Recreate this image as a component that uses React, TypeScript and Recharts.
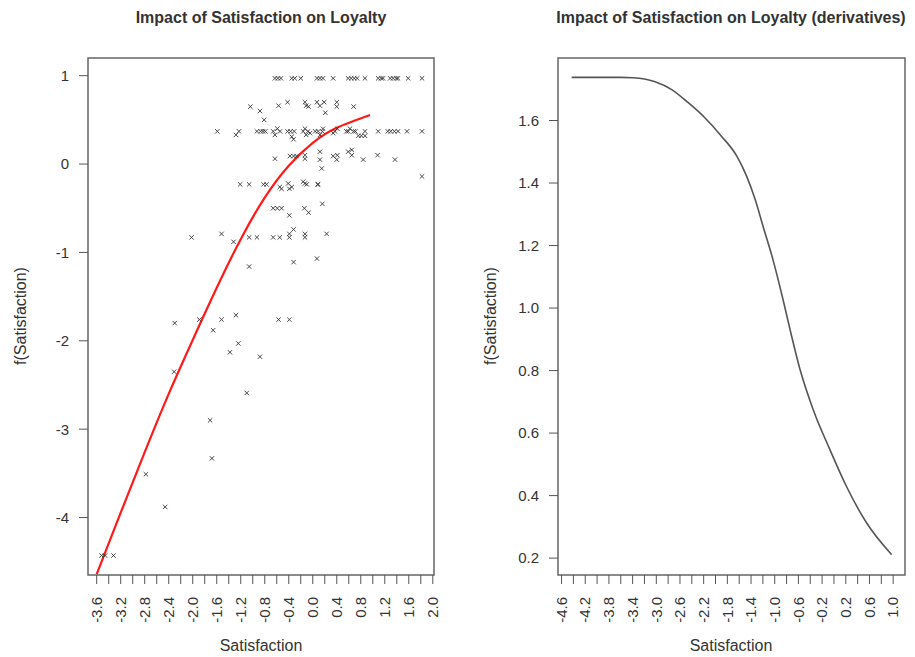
import React from 'react';
import { ComposedChart, Line, Scatter, XAxis, YAxis, ReferenceArea } from 'recharts';

// axis ticks (every 0.2, labels every 0.4)
const leftXTicks = [-3.6, -3.4, -3.2, -3.0, -2.8, -2.6, -2.4, -2.2, -2.0, -1.8, -1.6, -1.4, -1.2, -1.0, -0.8, -0.6, -0.4, -0.2, 0.0, 0.2, 0.4, 0.6, 0.8, 1.0, 1.2, 1.4, 1.6, 1.8, 2.0];
const leftXLabels = [-3.6, -3.2, -2.8, -2.4, -2.0, -1.6, -1.2, -0.8, -0.4, 0.0, 0.4, 0.8, 1.2, 1.6, 2.0];
const leftYTicks = [-4, -3, -2, -1, 0, 1];

const rightXTicks = [-4.6, -4.4, -4.2, -4.0, -3.8, -3.6, -3.4, -3.2, -3.0, -2.8, -2.6, -2.4, -2.2, -2.0, -1.8, -1.6, -1.4, -1.2, -1.0, -0.8, -0.6, -0.4, -0.2, 0.0, 0.2, 0.4, 0.6, 0.8, 1.0];
const rightXLabels = [-4.6, -4.2, -3.8, -3.4, -3.0, -2.6, -2.2, -1.8, -1.4, -1.0, -0.6, -0.2, 0.2, 0.6, 1.0];
const rightYTicks = [0.2, 0.4, 0.6, 0.8, 1.0, 1.2, 1.4, 1.6];

// observed points: satisfaction (x) vs partial effect (y)
const obsX = [
  -0.63, -0.58, -0.53, -0.35, -0.30, -0.20, 0.07, 0.12, 0.17, 0.34, 0.59, 0.64, 0.69, 0.74, 0.87, 1.09, 1.14, 1.17, 1.29, 1.34, 1.39, 1.42, 1.59, 1.82,
  -1.04, -0.88, -0.81, -0.57, -0.42, -0.13, -0.11, -0.07, 0.07, 0.12, 0.19, 0.21, 0.40, 0.40, 0.68,
  -1.59, -1.28, -1.23, -0.93, -0.87, -0.83, -0.79, -0.66, -0.63, -0.59, -0.545, -0.42, -0.37, -0.35, -0.31, -0.32, -0.16, -0.13, -0.11, -0.08, -0.045, 0.04, 0.09, 0.12, 0.16, 0.17, 0.34, 0.37, 0.41, 0.56, 0.59, 0.62, 0.68, 0.71, 0.76, 0.81, 0.87, 0.87, 1.09, 1.25, 1.30, 1.36, 1.42, 1.57, 1.82,
  -0.63, -0.38, -0.32, -0.27, -0.13, -0.13, 0.12, 0.12, 0.15, 0.34, 0.40, 0.41, 0.59, 0.65, 0.65, 0.84, 1.08, 1.37, 1.82,
  -1.21, -1.06, -0.82, -0.77, -0.55, -0.52, -0.41, -0.39, -0.35, -0.16, -0.13, -0.10, 0.08, 0.09,
  -0.66, -0.59, -0.52, -0.39, -0.14, -0.07, 0.16,
  -2.02, -1.52, -1.32, -1.06, -0.93, -0.66, -0.55, -0.39, -0.39, -0.32, -0.13, -0.13, 0.23,
  -1.06, -0.32, 0.07,
  -2.30, -1.89, -1.52, -1.28, -0.57, -0.39, -1.66, -1.24, -1.38, -0.88, -2.31, -1.10, -1.71, -1.68, -2.78, -2.46, -3.52, -3.46, -3.32,
];
const obsY = [
  0.97, 0.97, 0.97, 0.97, 0.97, 0.97, 0.97, 0.97, 0.97, 0.97, 0.97, 0.97, 0.97, 0.97, 0.97, 0.97, 0.97, 0.97, 0.97, 0.97, 0.97, 0.97, 0.97, 0.97,
  0.65, 0.60, 0.50, 0.66, 0.70, 0.70, 0.66, 0.65, 0.70, 0.66, 0.70, 0.58, 0.70, 0.65, 0.65,
  0.37, 0.33, 0.37, 0.37, 0.37, 0.37, 0.37, 0.37, 0.33, 0.40, 0.37, 0.37, 0.37, 0.31, 0.37, 0.28, 0.37, 0.40, 0.33, 0.37, 0.35, 0.37, 0.37, 0.33, 0.37, 0.40, 0.35, 0.37, 0.40, 0.37, 0.37, 0.40, 0.37, 0.37, 0.32, 0.32, 0.32, 0.37, 0.37, 0.37, 0.37, 0.37, 0.37, 0.37, 0.37,
  0.06, 0.09, 0.09, 0.09, 0.06, 0.10, 0.14, 0.05, -0.05, 0.09, 0.05, 0.10, 0.14, 0.10, 0.16, 0.05, 0.10, 0.05, -0.14,
  -0.23, -0.23, -0.23, -0.23, -0.26, -0.28, -0.22, -0.28, -0.26, -0.20, -0.22, -0.23, -0.23, -0.23,
  -0.50, -0.50, -0.50, -0.58, -0.50, -0.55, -0.45,
  -0.83, -0.79, -0.88, -0.83, -0.83, -0.83, -0.83, -0.79, -0.83, -0.74, -0.79, -0.83, -0.79,
  -1.16, -1.11, -1.07,
  -1.80, -1.76, -1.76, -1.71, -1.76, -1.76, -1.88, -2.03, -2.13, -2.18, -2.35, -2.59, -2.90, -3.33, -3.51, -3.88, -4.43, -4.43, -4.43,
];

// fitted smooth term
const fitX = [-3.6, -3.2, -2.8, -2.4, -2.0, -1.6, -1.2, -0.8, -0.4, 0.0, 0.4, 0.955];
const fitY = [-4.64, -3.945, -3.26, -2.6, -1.99, -1.4, -0.85, -0.38, -0.02, 0.24, 0.41, 0.555];

// derivative of the smooth term
const derivX = [-4.43, -4.0, -3.6, -3.39, -3.2, -3.02, -2.74, -2.46, -2.18, -1.9, -1.64, -1.475, -1.33, -1.195, -1.03, -0.857, -0.74, -0.575, -0.35, -0.068, 0.21, 0.55, 0.975];
const derivY = [1.738, 1.738, 1.738, 1.737, 1.733, 1.724, 1.699, 1.657, 1.609, 1.55, 1.486, 1.422, 1.347, 1.26, 1.155, 1.025, 0.93, 0.805, 0.675, 0.547, 0.43, 0.313, 0.211];

const obsData = obsX.map((x, i) => ({ x, y: obsY[i] }));
const fitData = fitX.map((x, i) => ({ x, y: fitY[i] }));
const derivData = derivX.map((x, i) => ({ x, y: derivY[i] }));

const FONT = '"Liberation Sans", Arial, sans-serif';
const TEXT = '#333';

const leftDomX: [number, number] = [-3.745, 2.02];
const leftDomY: [number, number] = [-4.65, 1.2];
const rightDomX: [number, number] = [-4.66, 1.2];
const rightDomY: [number, number] = [0.146, 1.8];

const Cross = (props: any) => {
  const { cx, cy } = props;
  const s = 2.2;
  return (
    <g stroke="#333" strokeWidth={0.9}>
      <line x1={cx - s} y1={cy - s} x2={cx + s} y2={cy + s} />
      <line x1={cx - s} y1={cy + s} x2={cx + s} y2={cy - s} />
    </g>
  );
};

const makeRotTick = (labels: number[]) => (props: any) => {
  const { x, y, payload } = props;
  const v = payload.value as number;
  if (!labels.some((l) => Math.abs(l - v) < 1e-6)) return <g />;
  return (
    <text
      x={x}
      y={y}
      transform={`rotate(-90, ${x}, ${y})`}
      textAnchor="end"
      dy="0.35em"
      fontSize={15}
      fontFamily={FONT}
      fill={TEXT}
    >
      {v.toFixed(1)}
    </text>
  );
};

const tickStyle = { fontSize: 15, fontFamily: FONT, fill: TEXT };

export default function App() {
  return (
    <div style={{ position: 'absolute', left: 0, top: 0, width: 915, height: 657, background: '#fff' }}>
      <div style={{ position: 'absolute', left: 0, top: 0 }}>
        <ComposedChart width={457} height={657} margin={{ top: 58, right: 23, bottom: 0, left: 0 }}>
          <XAxis
            type="number"
            dataKey="x"
            domain={leftDomX}
            ticks={leftXTicks}
            interval={0}
            allowDataOverflow
            height={82}
            axisLine={false}
            tickSize={9}
            tickMargin={13}
            tickLine={{ stroke: '#555' }}
            tick={makeRotTick(leftXLabels)}
          />
          <YAxis
            type="number"
            dataKey="y"
            domain={leftDomY}
            ticks={leftYTicks}
            interval={0}
            allowDataOverflow
            width={88}
            axisLine={false}
            tickSize={9}
            tickMargin={10}
            tickLine={{ stroke: '#555' }}
            tick={tickStyle}
          />
          <ReferenceArea x1={leftDomX[0]} x2={leftDomX[1]} y1={leftDomY[0]} y2={leftDomY[1]} fill="none" stroke="#666" strokeWidth={1.5} ifOverflow="visible" />
          <Scatter data={obsData} dataKey="y" shape={Cross} isAnimationActive={false} />
          <Line data={fitData} dataKey="y" type="natural" stroke="#ff1a1a" strokeWidth={2.2} dot={false} isAnimationActive={false} />
        </ComposedChart>
      </div>
      <div style={{ position: 'absolute', left: 457, top: 0 }}>
        <ComposedChart width={458} height={657} margin={{ top: 58, right: 10, bottom: 0, left: 0 }}>
          <XAxis
            type="number"
            dataKey="x"
            domain={rightDomX}
            ticks={rightXTicks}
            interval={0}
            allowDataOverflow
            height={82}
            axisLine={false}
            tickSize={9}
            tickMargin={13}
            tickLine={{ stroke: '#555' }}
            tick={makeRotTick(rightXLabels)}
          />
          <YAxis
            type="number"
            dataKey="y"
            domain={rightDomY}
            ticks={rightYTicks}
            interval={0}
            allowDataOverflow
            width={101}
            axisLine={false}
            tickSize={9}
            tickMargin={10}
            tickLine={{ stroke: '#555' }}
            tick={tickStyle}
            tickFormatter={(v: number) => v.toFixed(1)}
          />
          <ReferenceArea x1={rightDomX[0]} x2={rightDomX[1]} y1={rightDomY[0]} y2={rightDomY[1]} fill="none" stroke="#666" strokeWidth={1.5} ifOverflow="visible" />
          <Line data={derivData} dataKey="y" type="monotone" stroke="#555" strokeWidth={1.6} dot={false} isAnimationActive={false} />
        </ComposedChart>
      </div>
      <svg width={915} height={657} style={{ position: 'absolute', left: 0, top: 0, pointerEvents: 'none' }}>
        <g fontFamily={FONT} fill={TEXT}>
          <text x={261} y={23} textAnchor="middle" fontWeight="bold" fontSize={16}>Impact of Satisfaction on Loyalty</text>
          <text x={731} y={23} textAnchor="middle" fontWeight="bold" fontSize={16}>Impact of Satisfaction on Loyalty (derivatives)</text>
          <text x={261} y={651} textAnchor="middle" fontSize={16}>Satisfaction</text>
          <text x={731} y={651} textAnchor="middle" fontSize={16}>Satisfaction</text>
          <text x={26} y={316} textAnchor="middle" fontSize={16} transform="rotate(-90, 26, 316)">f(Satisfaction)</text>
          <text x={496} y={316} textAnchor="middle" fontSize={16} transform="rotate(-90, 496, 316)">f(Satisfaction)</text>
        </g>
      </svg>
    </div>
  );
}
